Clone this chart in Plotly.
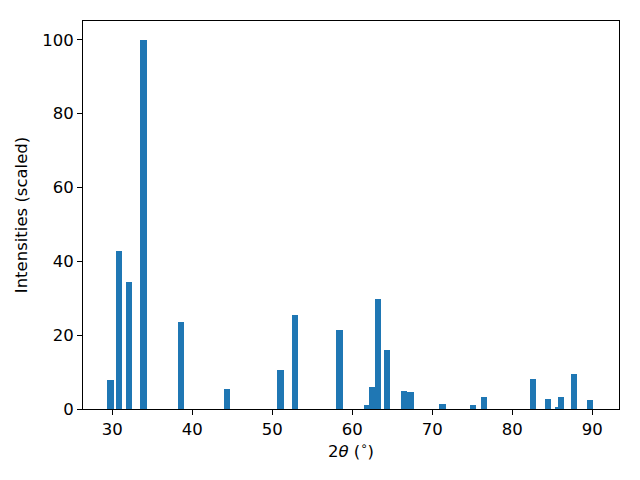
import plotly.graph_objects as go

two_theta = [29.78, 30.84, 32.09, 33.9, 38.59, 44.34, 51.03, 52.84, 58.4, 61.86, 62.46, 63.2,
             64.34, 66.46, 67.3, 71.27, 75.09, 76.46, 82.59, 84.5, 85.7, 86.09, 87.71, 89.71]
intensity = [7.9, 42.8, 34.4, 100, 23.6, 5.4, 10.6, 25.5, 21.4, 1.1, 6.0, 29.8,
             16.0, 4.9, 4.6, 1.4, 1.1, 3.2, 8.1, 2.7, 0.5, 3.2, 9.5, 2.4]
x_ticks = [30, 40, 50, 60, 70, 80, 90]
y_ticks = [0, 20, 40, 60, 80, 100]

fig = go.Figure(go.Bar(x=two_theta, y=intensity, width=0.8, marker_color="#1f77b4",
                       marker_line_width=0))

font = dict(family="DejaVu Sans", size=16.5, color="black")
axis_common = dict(showline=True, linecolor="black", linewidth=1, mirror=True,
                   ticks="outside", ticklen=5, tickwidth=1, tickcolor="black",
                   showgrid=False, zeroline=False, tickfont=font)

fig.update_layout(
    width=624, height=464,
    margin=dict(l=75, r=13, t=13, b=63),
    paper_bgcolor="white", plot_bgcolor="white",
    showlegend=False,
    bargap=0,
    xaxis=dict(range=[26.34, 93.34], tickvals=x_ticks,
               title=dict(text="2<i>θ</i> (<sup>∘</sup>)", standoff=6, font=font),
               **axis_common),
    yaxis=dict(range=[0, 105.1], tickvals=y_ticks,
               title=dict(text="Intensities (scaled)", standoff=10, font=font),
               **axis_common),
)

fig.write_html("out.html")
